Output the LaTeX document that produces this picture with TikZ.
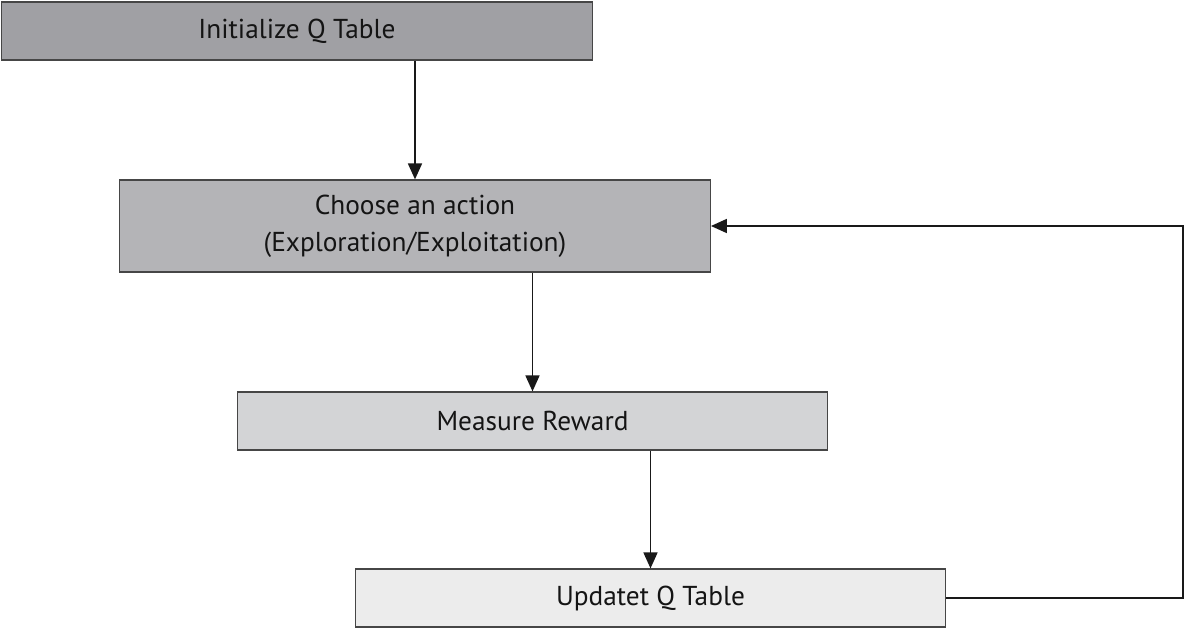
\documentclass[tikz,border=0pt]{standalone}
\usepackage{fontspec}
\setmainfont{PT Sans}
\usetikzlibrary{arrows.meta}
\definecolor{stepA}{RGB}{160,160,164}
\definecolor{stepB}{RGB}{180,180,183}
\definecolor{stepC}{RGB}{211,212,214}
\definecolor{stepD}{RGB}{236,236,236}
\tikzset{
  qbox/.style={draw={rgb,255:red,70;green,70;blue,70},line width=0.9pt,minimum width=443pt,align=center,inner sep=0.75pt,font=\fontsize{20.5}{28}\selectfont,text={rgb,255:red,20;green,20;blue,20}},
  qarrow/.style={draw={rgb,255:red,25;green,25;blue,25},line width=1.3pt,-{Triangle[length=12pt,width=10.5pt]}}
}
\begin{document}
\begin{tikzpicture}[x=0.75pt,y=0.75pt,yscale=-1,xscale=1]
        \useasboundingbox (0,0) rectangle (1187,630);
        % Text Node
        \node (init) at (297,31) [qbox,fill=stepA,minimum height=43.5pt] {Initialize Q Table};
        % Text Node
        \node (choose) at (415,226) [qbox,fill=stepB,minimum height=69pt] {Choose an action\\(Exploration/Exploitation)};
        % Text Node
        \node (measure) at (532.5,421) [qbox,fill=stepC,minimum height=43.5pt] {Measure Reward};
        % Text Node
        \node (update) at (650.5,598) [qbox,fill=stepD,minimum height=43.5pt] {Updatet Q Table};
        \coordinate (loop) at (1183,598);
        
        %Straight Lines
        \draw [qarrow] (init.south -| choose.north) -- (choose.north) ;
        %Straight Lines
        \draw [qarrow] (choose.south -| measure.north) -- (measure.north) ;
        %Straight Lines
        \draw [qarrow] (measure.south -| update.north) -- (update.north) ;
        %Straight Lines
        \draw [qarrow] (update.east) -- (loop) |- (choose.east) ;
\end{tikzpicture}
\end{document}
